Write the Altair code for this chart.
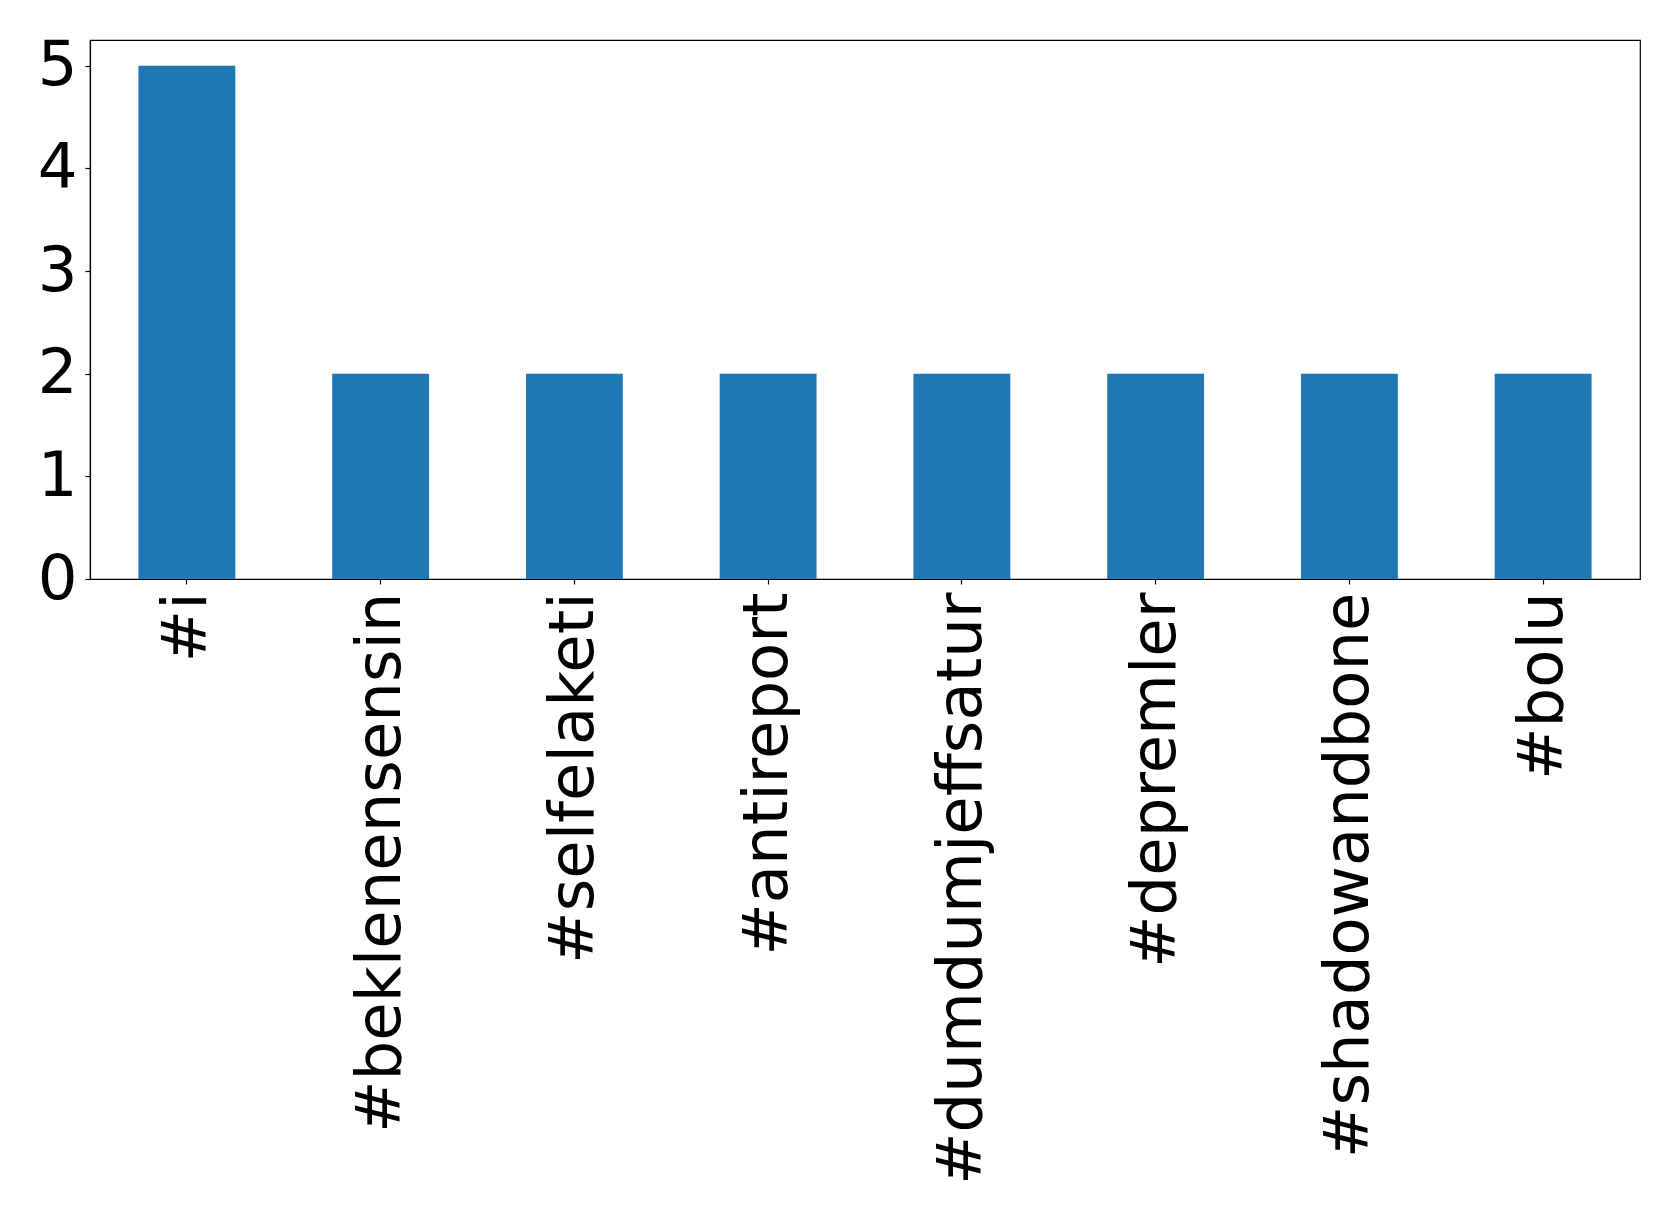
import altair as alt
import pandas as pd

hashtags = ["#i", "#beklenensensin", "#selfelaketi", "#antireport",
            "#dumdumjeffsatur", "#depremler", "#shadowandbone", "#bolu"]
counts = [5, 2, 2, 2, 2, 2, 2, 2]

df = pd.DataFrame({"tag": hashtags, "count": counts})

chart = alt.Chart(df).mark_bar(color="#1f77b4").encode(
    x=alt.X("tag:N", sort=hashtags, title=None,
            scale=alt.Scale(paddingInner=0.5, paddingOuter=0.25),
            axis=alt.Axis(labelAngle=-90, labelAlign="right", labelBaseline="middle",
                          labelFontSize=62.5, labelPadding=8, tickSize=5,
                          tickColor="black", domainColor="black", labelColor="black",
                          labelFont="DejaVu Sans", labelLimit=0)),
    y=alt.Y("count:Q", title=None,
            scale=alt.Scale(domain=[0, 5.25], nice=False),
            axis=alt.Axis(values=[0, 1, 2, 3, 4, 5], format="d", grid=False,
                          labelFontSize=62.5, labelPadding=8, tickSize=5,
                          tickColor="black", domainColor="black", labelColor="black",
                          labelFont="DejaVu Sans", labelBaseline="middle")),
).properties(
    width=1550, height=539,
    autosize=alt.AutoSizeParams(type="none"),
    padding={"left": 82, "top": 32, "right": 30, "bottom": 630},
).configure_view(
    stroke="black", strokeWidth=1.2
).configure_axis(domainWidth=1.2, tickWidth=1.2)

chart.save("out.html", embed_options={"renderer": "svg", "actions": False})
